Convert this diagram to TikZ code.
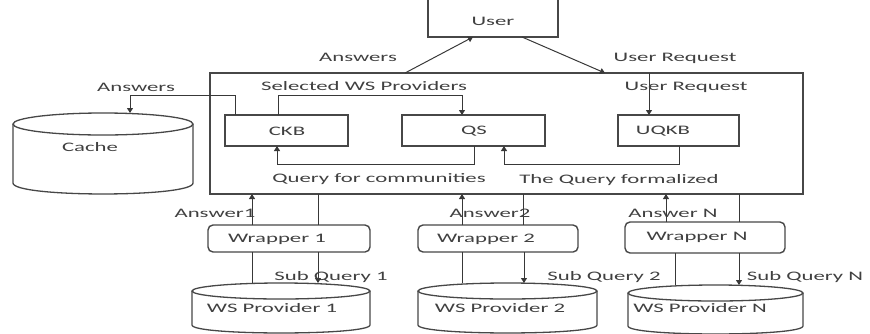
\documentclass[tikz,border=0pt]{standalone}
\usepackage{fontspec}
\setmainfont{Carlito}
\usetikzlibrary{arrows.meta,calc}
\newcommand\sx[1]{\scalebox{1.75}[1]{#1}}
\newcommand\mycyl[6]{%
  \pgfmathsetmacro\rx{(#3-#2)/2}%
  \pgfmathsetmacro\cy{#5+1.33*#6}%
  \draw[cylln] (#2,#4) -- (#2,#5) .. controls (#2,\cy) and (#3,\cy) .. (#3,#5) -- (#3,#4);
  \draw[cylln,fill=white] ($(#2,#4)!0.5!(#3,#4)$) ellipse[x radius=\rx, y radius=#6];
  \coordinate (#1) at ($(#2,#4)!0.5!(#3,#4)+(0,-#6)$);
}
\begin{document}
\begin{tikzpicture}[x=1pt,y=-1pt,
  ln/.style={draw=black!78, line width=1pt},
  arr/.style={ln, -{Triangle[length=5pt,width=6pt]}},
  box/.style={draw=black!72, line width=1.4pt, fill=white, inner sep=0pt, outer sep=0pt},
  rbox/.style={box, rounded corners=5pt},
  cylln/.style={draw=black!72, line width=1.3pt},
  lbl/.style={text=black!75, font=\fontsize{13}{15}\selectfont, inner sep=0pt}]
\useasboundingbox (0,0) rectangle (870,333);

% boxes
\node[box, minimum width=130pt, minimum height=42pt] (user) at (493,16) {};
\node[box, minimum width=593pt, minimum height=121pt] (main) at (506.5,133.5) {};
\node[box, minimum width=123pt, minimum height=31pt] (ckb) at (286.5,130.5) {};
\node[box, minimum width=143pt, minimum height=31pt] (qs) at (473.5,130.5) {};
\node[box, minimum width=121pt, minimum height=31pt] (uqkb) at (678.5,130.5) {};
\node[rbox, minimum width=162pt, minimum height=27pt] (w1) at (289,238.5) {};
\node[rbox, minimum width=160pt, minimum height=27pt] (w2) at (498,238.5) {};
\node[rbox, minimum width=160pt, minimum height=31pt] (wn) at (705,237.5) {};

% cylinders
\mycyl{cachetop}{13}{193}{124}{183}{11}
\mycyl{p1top}{192}{370}{291}{325}{8}
\mycyl{p2top}{418}{597}{291}{325}{8}
\mycyl{pntop}{628}{803}{293}{326}{8}

% connectors top
\draw[arr] (main.north -| 405,0) -- (user.south -| 473,0);
\draw[arr] (user.south -| 522,0) -- (main.north -| 605,0);
\draw[arr] (main.north -| 649,0) -- (uqkb.north -| 649,0);
\draw[arr] (ckb.north -| 278,0) -- ++(0,-20) -| (qs.north -| 462,0);
\draw[arr] (ckb.north -| 235,0) -- ++(0,-20) -| (cachetop -| 130,0);
\draw[arr] (qs.south -| 474,0) -- ++(0,18) -| (ckb.south -| 277,0);
\draw[arr] (uqkb.south -| 679,0) -- ++(0,18) -| (qs.south -| 504,0);

% connectors bottom
\draw[arr] (w1.north -| 252,0) -- (main.south -| 252,0);
\draw[ln]  (main.south -| 318,0) -- (w1.north -| 318,0);
\draw[arr] (w2.north -| 462,0) -- (main.south -| 462,0);
\draw[ln]  (main.south -| 523,0) -- (w2.north -| 523,0);
\draw[arr] (wn.north -| 666,0) -- (main.south -| 666,0);
\draw[ln]  (main.south -| 739,0) -- (wn.north -| 739,0);
\draw[ln]  (w1.south -| 252,0) -- (p1top -| 252,0);
\draw[arr] (w1.south -| 318,0) -- (p1top -| 318,0);
\draw[ln]  (w2.south -| 462,0) -- (p2top -| 462,0);
\draw[arr] (w2.south -| 524,0) -- (p2top -| 524,0);
\draw[ln]  (wn.south -| 675,0) -- (pntop -| 675,0);
\draw[arr] (wn.south -| 739,0) -- (pntop -| 739,0);

% texts
\node[lbl] (tuser) at (493,21) {\sx{User}};
\node[lbl] (tans) at (358,57) {\sx{Answers}};
\node[lbl] (tur) at (675,58) {\sx{User Request}};
\node[lbl] (tsel) at (364,86) {\sx{Selected WS Providers}};
\node[lbl] (tur2) at (686,87) {\sx{User Request}};
\node[lbl] (tansc) at (136,87) {\sx{Answers}};
\node[lbl] (tckb) at (287,131) {\sx{CKB}};
\node[lbl] (tqs) at (474,131) {\sx{QS}};
\node[lbl] (tuqkb) at (663,131) {\sx{UQKB}};
\node[lbl] (tcache) at (90,147) {\sx{Cache}};
\node[lbl] (tq1) at (379,179) {\sx{Query for communities}};
\node[lbl] (tq2) at (619,180) {\sx{The Query formalized}};
\node[lbl] (ta1) at (215,213) {\sx{Answer1}};
\node[lbl] (ta2) at (490,213) {\sx{Answer2}};
\node[lbl] (tan) at (673,213) {\sx{Answer N}};
\node[lbl] (tw1) at (277,239) {\sx{Wrapper 1}};
\node[lbl] (tw2) at (486,239) {\sx{Wrapper 2}};
\node[lbl] (twn) at (697,237) {\sx{Wrapper N}};
\node[lbl] (ts1) at (331,277) {\sx{Sub Query 1}};
\node[lbl] (ts2) at (604,277) {\sx{Sub Query 2}};
\node[lbl] (tsn) at (805,277) {\sx{Sub Query N}};
\node[lbl] (tp1) at (272,308) {\sx{WS Provider 1}};
\node[lbl] (tp2) at (500,308) {\sx{WS Provider 2}};
\node[lbl] (tpn) at (700,308) {\sx{WS Provider N}};
\end{tikzpicture}
\end{document}
